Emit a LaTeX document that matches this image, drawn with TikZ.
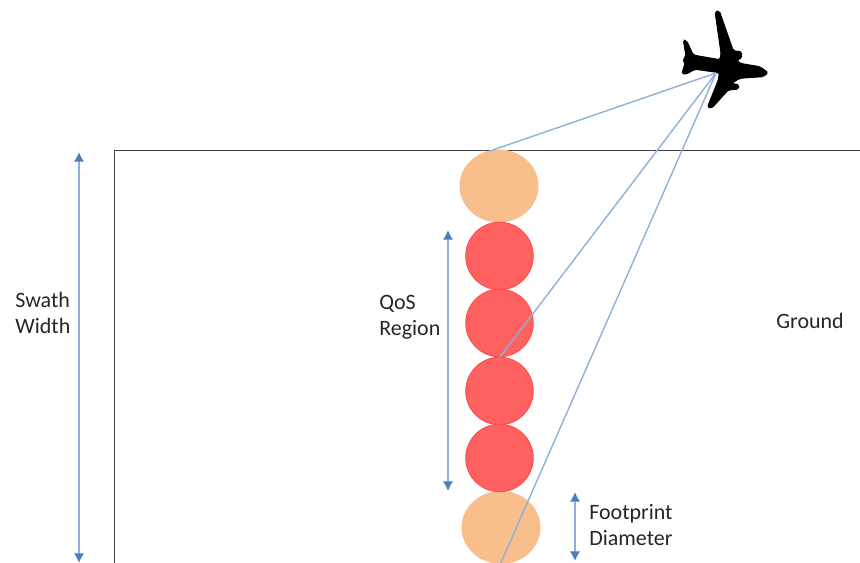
\documentclass[tikz,border=0pt]{standalone}
\usepackage{fontspec}
\setmainfont{Carlito}
\usetikzlibrary{arrows.meta}
\usetikzlibrary{shapes.geometric}
\definecolor{raycol}{HTML}{8FB0D9}
\definecolor{tipcol}{HTML}{4A7EBB}
\definecolor{qoscol}{HTML}{FF6060}
\definecolor{qosrim}{HTML}{FF4A4A}
\definecolor{edgecol}{HTML}{F8BE8C}
\tikzset{
	ray/.style={draw=raycol, line width=0.8pt},
	span/.style={draw=raycol, line width=1.1pt, {Latex[color=tipcol,length=5.5pt,width=6pt]}-{Latex[color=tipcol,length=5.5pt,width=6pt]}},
	lbl/.style={align=left, font=\fontsize{12.5}{14.9}\selectfont, text=black!85, inner sep=0pt},
	qos/.style={circle, fill=qoscol, draw=qosrim, line width=0.5pt, minimum size=1.35cm, inner sep=0pt},
	edgefp/.style={ellipse, fill=edgecol, minimum width=1.58cm, minimum height=1.46cm, inner sep=0pt},
}
\begin{document}
\begin{tikzpicture}[x=0.02cm, y=-0.02cm]
	\clip (0,0) rectangle (860,563);

	% ground
	\draw[black!75, line width=0.55pt] (114.5,570) -- (114.5,150) -- (870,150);

	% footprints
	\node[edgefp] (fpTop) at (499,186) {};
	\node[edgefp] (fpBot) at (501,527.5) {};
	\foreach \y [count=\i] in {256,323,391,458} {
		\node[qos] (fpQos\i) at (499.5,\y) {};
	}

	% plane
	\filldraw[black, line width=0.5pt, rounded corners=1pt] (683.3,40) -- (686.7,40.7) -- (693.3,55) -- (720,59.7) -- (721,53.3)
		-- (715,11.7) -- (719.3,10.7) -- (733.3,50.7) -- (741.7,51.7) -- (741.7,58.3) -- (736.7,60)
		-- (740,63.3) -- (760,66.7) -- (768.3,72.7) -- (763.3,76.7) -- (740,78.3) -- (731.7,83.3)
		-- (739.3,85) -- (738.3,89.3) -- (728.3,90) -- (711.7,108.3) -- (707.3,107.3) -- (718.3,80)
		-- (719.3,72.7) -- (695,69.3) -- (686.7,74) -- (681.7,74) -- (685,63.3) -- (682.7,59.3)
		-- (686,56.7) -- cycle;
	\coordinate (plane) at (716,73);

	% rays
	\coordinate (rayTop) at (490,151);
	\coordinate (rayMid) at (500,357);
	\coordinate (rayBot) at (500,565);
	\foreach \e in {rayTop,rayMid,rayBot} {
		\draw[ray] (plane) -- (\e);
	}

	% spans
	\coordinate (swathA) at (79,152);
	\coordinate (swathB) at (79,563);
	\coordinate (qosA) at (448,230);
	\coordinate (qosB) at (448,491);
	\coordinate (footA) at (575,492);
	\coordinate (footB) at (575,561);
	\draw[span] (swathA) -- (swathB);
	\draw[span] (qosA) -- (qosB);
	\draw[span] (footA) -- (footB);

	% labels
	\node[lbl, anchor=west] (swathLbl) at (15,313) {Swath\\Width};
	\node[lbl, anchor=west] (qosLbl) at (379,317) {QoS\\Region};
	\node[lbl, anchor=west] (footLbl) at (589,525) {Footprint\\Diameter};
	\node[lbl, anchor=west] (groundLbl) at (776,321) {Ground};
\end{tikzpicture}
\end{document}
